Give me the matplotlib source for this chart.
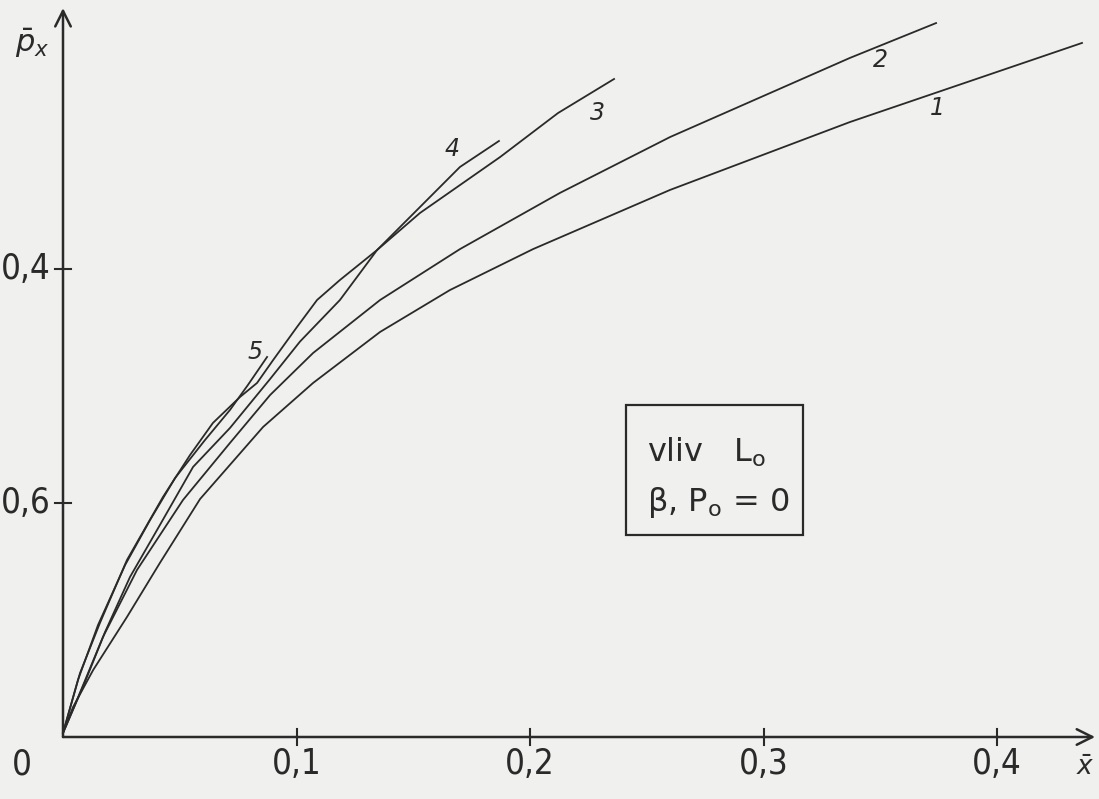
import numpy as np
import matplotlib.pyplot as plt
from matplotlib.patches import Rectangle

# curves (x, y in axis units; y tick labels are as printed)
x1 = [0.0, 0.0043, 0.0129, 0.0274, 0.0415, 0.0587, 0.0857, 0.1071, 0.1358, 0.1657, 0.2013, 0.2600, 0.3370, 0.4364]
y1 = [0.004, 0.0256, 0.0572, 0.1026, 0.1488, 0.2034, 0.2650, 0.3026, 0.3462, 0.3820, 0.4170, 0.4676, 0.5256, 0.5932]

x2 = [0.0, 0.0051, 0.0171, 0.0317, 0.0514, 0.0715, 0.0887, 0.1071, 0.1358, 0.1700, 0.2128, 0.2600, 0.3370, 0.3739]
y2 = [0.0034, 0.0274, 0.0854, 0.1428, 0.2026, 0.2513, 0.2923, 0.3282, 0.3735, 0.4170, 0.4650, 0.5128, 0.5804, 0.6102]

x3 = [0.0, 0.0073, 0.0158, 0.0274, 0.0428, 0.0544, 0.0642, 0.0758, 0.0831, 0.0900, 0.1002, 0.1088, 0.1186, 0.1345, 0.1529, 0.1872, 0.2120, 0.2360]
y3 = [0.0034, 0.0547, 0.0974, 0.1513, 0.2051, 0.2410, 0.2684, 0.2906, 0.3026, 0.3222, 0.3504, 0.3735, 0.3906, 0.4162, 0.4479, 0.4957, 0.5333, 0.5624]

x4 = [0.0, 0.0094, 0.0180, 0.0287, 0.0415, 0.0557, 0.0715, 0.0887, 0.1015, 0.1186, 0.1345, 0.1529, 0.1700, 0.1867]
y4 = [0.0034, 0.0470, 0.0897, 0.1368, 0.1812, 0.2308, 0.2641, 0.3060, 0.3380, 0.3735, 0.4162, 0.4530, 0.4872, 0.5094]

x5 = [0.0, 0.0064, 0.0150, 0.0266, 0.0373, 0.0480, 0.0608, 0.0715, 0.0792, 0.0874]
y5 = [0.0034, 0.0487, 0.0957, 0.1470, 0.1855, 0.2214, 0.2538, 0.2795, 0.3009, 0.3248]

curve_names = ['1', '2', '3', '4', '5']
label_x = [0.3743, 0.3499, 0.2291, 0.1666, 0.0822]
label_y = [0.5376, 0.5786, 0.5333, 0.5026, 0.3291]

xticks = [0.1, 0.2, 0.3, 0.4]
xticklabels = ['0,1', '0,2', '0,3', '0,4']
yticks = [0.2, 0.4]
yticklabels = ['0,6', '0,4']

ink = '#2a2a2a'
paper = '#f0f0ef'

fig = plt.figure(figsize=(10.99, 7.99), dpi=100, facecolor=paper)
ax = fig.add_axes([0, 0, 1, 1])
ax.set_facecolor(paper)
ax.set_xlim(-63 / 2335, 1036 / 2335)
ax.set_ylim(-62 / 1170, 737 / 1170)
ax.axis('off')

# axes with arrows
ax.annotate('', xy=(0.442, 0), xytext=(0, 0),
            arrowprops=dict(arrowstyle='->', lw=1.8, color=ink, mutation_scale=28, shrinkA=0, shrinkB=0))
ax.annotate('', xy=(0, 0.623), xytext=(0, 0),
            arrowprops=dict(arrowstyle='->', lw=1.8, color=ink, mutation_scale=28, shrinkA=0, shrinkB=0))

tx = 8 / 2335
ty = 8 / 1170
for t, lab in zip(xticks, xticklabels):
    ax.plot([t, t], [-ty, ty], color=ink, lw=1.5)
    ax.text(t, -0.0235, lab, ha='center', va='center', fontsize=25, color=ink, fontstretch='condensed')
ax.text(-0.0176, -0.0235, '0', ha='center', va='center', fontsize=25, color=ink, fontstretch='condensed')
for t, lab in zip(yticks, yticklabels):
    ax.plot([-tx, tx], [t, t], color=ink, lw=1.5)
    ax.text(-0.0052, t, lab, ha='right', va='center', fontsize=25, color=ink, fontstretch='condensed')

ax.text(-0.0133, 0.593, r'$\bar{p}_x$', ha='center', va='center', fontsize=22, color=ink)
ax.text(0.4378, -0.0265, r'$\bar{x}$', ha='center', va='center', fontsize=19, color=ink)

for xs, ys in [(x1, y1), (x2, y2), (x3, y3), (x4, y4), (x5, y5)]:
    ax.plot(xs, ys, color=ink, lw=1.3, solid_joinstyle='round')

for name, lx, ly in zip(curve_names, label_x, label_y):
    ax.text(lx, ly, name, ha='center', va='center', fontsize=17, color=ink, style='italic')

# legend-like box
fig.patches.append(Rectangle((626 / 1099, (799 - 535) / 799), 177 / 1099, 130 / 799,
                             transform=fig.transFigure, fill=False, lw=1.6, edgecolor=ink))
fig.text(647 / 1099, 1 - 452 / 799, r'vliv   L$_\mathregular{o}$', ha='left', va='center',
         fontsize=23, color=ink)
fig.text(647 / 1099, 1 - 503 / 799, r'β, P$_\mathregular{o}$ = 0', ha='left', va='center',
         fontsize=23, color=ink)

fig.savefig('out.png', dpi=100, facecolor=paper)
